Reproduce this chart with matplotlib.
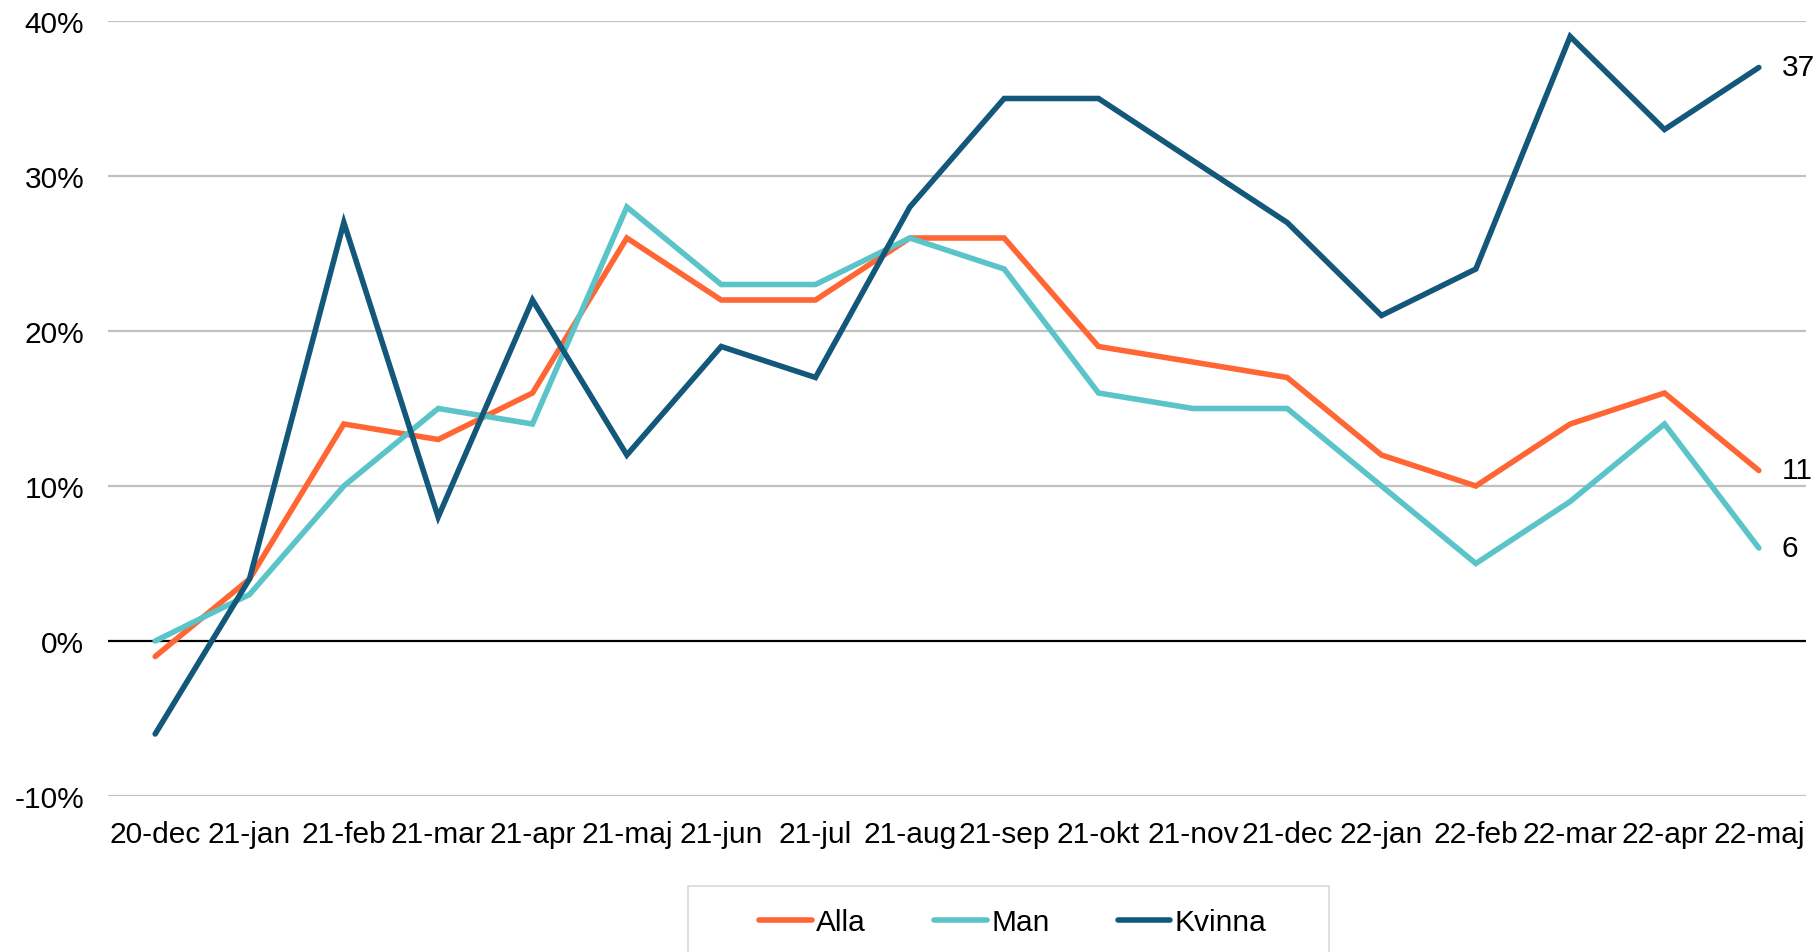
import matplotlib
matplotlib.use("Agg")
import matplotlib.pyplot as plt
from matplotlib.patches import Rectangle
from matplotlib.ticker import FuncFormatter

plt.rcParams['font.family'] = ['Liberation Sans', 'DejaVu Sans']

categories = ["20-dec", "21-jan", "21-feb", "21-mar", "21-apr", "21-maj", "21-jun",
              "21-jul", "21-aug", "21-sep", "21-okt", "21-nov", "21-dec", "22-jan",
              "22-feb", "22-mar", "22-apr", "22-maj"]
alla = [-1, 4, 14, 13, 16, 26, 22, 22, 26, 26, 19, 18, 17, 12, 10, 14, 16, 11]
man = [0, 3, 10, 15, 14, 28, 23, 23, 26, 24, 16, 15, 15, 10, 5, 9, 14, 6]
kvinna = [-6, 4, 27, 8, 22, 12, 19, 17, 28, 35, 35, 31, 27, 21, 24, 39, 33, 37]
series_names = ["Alla", "Man", "Kvinna"]
colors = ["#FF6633", "#5BC4C8", "#13587A"]
yticks = [-10, 0, 10, 20, 30, 40]

FS = 21.5
W, H = 1819, 953
fig = plt.figure(figsize=(W / 100, H / 100), dpi=100)
ax = fig.add_axes([108 / W, 1 - 797 / H, (1806 - 108) / W, (797 - 22) / H])

x = list(range(len(categories)))
handles = []
for vals, name, c in zip([alla, man, kvinna], series_names, colors):
    h, = ax.plot(x, vals, color=c, lw=4, solid_capstyle='round',
                 solid_joinstyle='miter', label=name, zorder=3)
    handles.append(h)
    ax.text(x[-1] + 0.24, vals[-1], str(vals[-1]), fontsize=FS,
            va='center', ha='left', color='black')

ax.set_xlim(-0.5, len(categories) - 0.5)
ax.set_ylim(-10, 40)
ax.set_yticks(yticks)
ax.yaxis.set_major_formatter(FuncFormatter(lambda v, p: f"{int(v)}%"))
ax.set_xticks(x)
ax.set_xticklabels(categories)
ax.tick_params(axis='both', length=0, labelsize=FS)
ax.tick_params(axis='y', pad=17)
ax.tick_params(axis='x', pad=17)
for s in ax.spines.values():
    s.set_visible(False)
for t in yticks:
    if t == 0:
        ax.axhline(0, color='black', lw=1.6, zorder=2)
    else:
        ax.axhline(t, color='#C0C0C0', lw=1.6, zorder=1)

# legend box
fig.patches.append(Rectangle((688 / W, -0.02), (1329 - 688) / W, (953 - 887) / H + 0.02,
                             transform=fig.transFigure, facecolor='white',
                             edgecolor='#D9D9D9', lw=1.2, zorder=0))
leg = fig.legend(handles=handles, loc='center', bbox_to_anchor=(1013 / W, 1 - 923 / H),
                 ncol=3, frameon=False, fontsize=FS, handlelength=1.75,
                 handletextpad=0.15, columnspacing=2.3)

fig.savefig("out.png", dpi=100)
